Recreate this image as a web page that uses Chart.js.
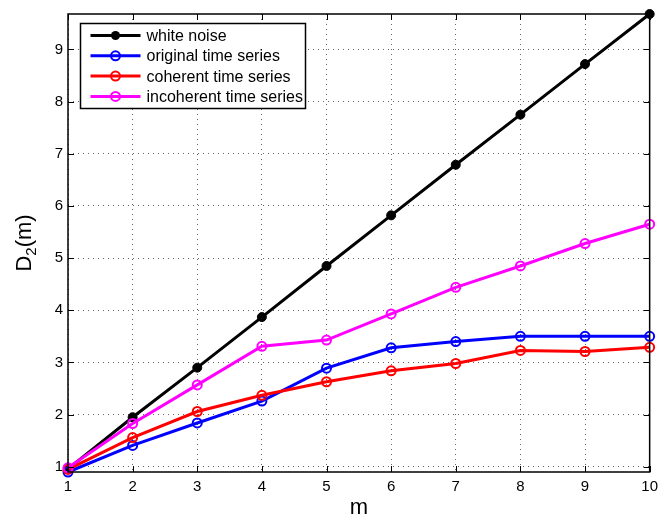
<!DOCTYPE html>
<html>
<head>
<meta charset="utf-8">
<script src="https://cdn.jsdelivr.net/npm/chart.js@4.4.1/dist/chart.umd.min.js"></script>
<style>
  html, body { margin: 0; padding: 0; background: #fff; }
  #wrap { width: 664px; height: 519px; }
</style>
</head>
<body>
<div id="wrap"><canvas id="d2Chart"></canvas></div>
<script>
// embedding dimension m
const embeddingDims = [1, 2, 3, 4, 5, 6, 7, 8, 9, 10];

// correlation dimension D2(m) per series
const whiteNoise = [0.96, 1.95, 2.90, 3.87, 4.85, 5.82, 6.79, 7.75, 8.72, 9.68];
const originalSeries = [0.90, 1.41, 1.84, 2.26, 2.89, 3.28, 3.40, 3.50, 3.50, 3.50];
const coherentSeries = [0.95, 1.56, 2.06, 2.37, 2.63, 2.84, 2.98, 3.23, 3.21, 3.29];
const incoherentSeries = [0.98, 1.83, 2.57, 3.31, 3.43, 3.93, 4.44, 4.85, 5.28, 5.65];

const seriesLabels = ['white noise', 'original time series', 'coherent time series', 'incoherent time series'];
const xTicks = [1, 2, 3, 4, 5, 6, 7, 8, 9, 10];
const yTicks = [1, 2, 3, 4, 5, 6, 7, 8, 9];

const FONT = "'Liberation Sans', Arial, Helvetica, sans-serif";

function toPoints(values) {
    return values.map((v, i) => ({ x: embeddingDims[i], y: v }));
}

function makeSeries(label, values, color, filled, order) {
    return {
        label: label,
        data: toPoints(values),
        borderColor: color,
        backgroundColor: color,
        borderWidth: 3,
        pointRadius: 4.5,
        pointBorderWidth: filled ? 1 : 2,
        pointBackgroundColor: filled ? color : 'rgba(0,0,0,0)',
        pointBorderColor: color,
        pointStyle: 'circle',
        tension: 0,
        clip: false,
        order: order
    };
}

// box, inward tick marks (all four sides) and the y label with subscript
const frameAndLabels = {
    id: 'frameAndLabels',
    afterDraw(chart) {
        const { ctx, chartArea: a, scales: { x, y } } = chart;
        ctx.save();
        ctx.strokeStyle = '#000';
        ctx.lineWidth = 1;
        ctx.beginPath();
        xTicks.forEach(t => {
            const px = Math.round(x.getPixelForValue(t)) + 0.5;
            ctx.moveTo(px, a.bottom); ctx.lineTo(px, a.bottom - 6);
            ctx.moveTo(px, a.top); ctx.lineTo(px, a.top + 6);
        });
        yTicks.forEach(t => {
            const py = Math.round(y.getPixelForValue(t)) + 0.5;
            ctx.moveTo(a.left, py); ctx.lineTo(a.left + 6, py);
            ctx.moveTo(a.right, py); ctx.lineTo(a.right - 6, py);
        });
        ctx.stroke();
        ctx.lineWidth = 1.5;
        ctx.strokeRect(a.left, a.top, a.right - a.left, a.bottom - a.top);

        // y axis title: D with subscript 2, then (m)
        const cy = (a.top + a.bottom) / 2;
        ctx.translate(25, cy);
        ctx.rotate(-Math.PI / 2);
        ctx.fillStyle = '#000';
        ctx.textBaseline = 'middle';
        ctx.textAlign = 'left';
        const big = '22px ' + FONT;
        const small = '15px ' + FONT;
        ctx.font = big;
        const wD = ctx.measureText('D').width;
        const wM = ctx.measureText('(m)').width;
        ctx.font = small;
        const w2 = ctx.measureText('2').width;
        let sx = -(wD + w2 + wM) / 2;
        ctx.font = big;
        ctx.fillText('D', sx, 0);
        sx += wD;
        ctx.font = small;
        ctx.fillText('2', sx, 7);
        sx += w2;
        ctx.font = big;
        ctx.fillText('(m)', sx, 0);
        ctx.restore();
    }
};

// boxed legend in the upper left corner of the axes
const boxedLegend = {
    id: 'boxedLegend',
    afterDraw(chart) {
        const { ctx, chartArea: a } = chart;
        const left = a.left + 12.5, top = a.top + 9.5;
        const w = 225, h = 85;
        ctx.save();
        ctx.fillStyle = '#fff';
        ctx.fillRect(left, top, w, h);
        ctx.strokeStyle = '#000';
        ctx.lineWidth = 1.5;
        ctx.strokeRect(left, top, w, h);
        ctx.font = '16px ' + FONT;
        ctx.textBaseline = 'middle';
        ctx.textAlign = 'left';
        chart.data.datasets.forEach((ds, i) => {
            const ry = top + 12 + i * 20.3;
            ctx.strokeStyle = ds.borderColor;
            ctx.lineWidth = 3;
            ctx.beginPath();
            ctx.moveTo(left + 10, ry);
            ctx.lineTo(left + 60, ry);
            ctx.stroke();
            ctx.beginPath();
            ctx.arc(left + 35, ry, 4.5, 0, Math.PI * 2);
            if (ds.pointBorderWidth === 1) {
                ctx.fillStyle = ds.borderColor;
                ctx.fill();
            } else {
                ctx.lineWidth = 2;
                ctx.stroke();
            }
            ctx.fillStyle = '#000';
            ctx.fillText(ds.label, left + 66, ry + 1);
        });
        ctx.restore();
    }
};

const gridStyle = {
    color: 'rgba(0,0,0,0.6)',
    lineWidth: 1,
    drawTicks: false
};

const ctx = document.getElementById('d2Chart').getContext('2d');
new Chart(ctx, {
    type: 'line',
    data: {
        datasets: [
            makeSeries(seriesLabels[0], whiteNoise, '#000000', true, 4),
            makeSeries(seriesLabels[1], originalSeries, '#0000ff', false, 3),
            makeSeries(seriesLabels[2], coherentSeries, '#ff0000', false, 2),
            makeSeries(seriesLabels[3], incoherentSeries, '#ff00ff', false, 1)
        ]
    },
    options: {
        responsive: true,
        maintainAspectRatio: false,
        animation: false,
        layout: { padding: { top: 13, right: 8, left: 0, bottom: 0 } },
        plugins: {
            legend: { display: false },
            tooltip: { enabled: false }
        },
        scales: {
            x: {
                type: 'linear',
                min: 1,
                max: 10,
                afterBuildTicks: scale => { scale.ticks = xTicks.map(v => ({ value: v })); },
                afterFit: scale => { scale.height = 47; },
                ticks: {
                    color: '#000',
                    font: { family: FONT, size: 15 },
                    padding: 6,
                    maxRotation: 0,
                    autoSkip: false
                },
                grid: gridStyle,
                border: { display: false, dash: [1, 4] },
                title: {
                    display: true,
                    text: 'm',
                    color: '#000',
                    font: { family: FONT, size: 22, lineHeight: 1.0 },
                    padding: { top: 0, bottom: 0 }
                }
            },
            y: {
                type: 'linear',
                min: 0.90,
                max: 9.68,
                afterBuildTicks: scale => { scale.ticks = yTicks.map(v => ({ value: v })); },
                afterFit: scale => { scale.width = 68; },
                ticks: {
                    color: '#000',
                    font: { family: FONT, size: 15 },
                    padding: 5
                },
                grid: gridStyle,
                border: { display: false, dash: [1, 4] }
            }
        }
    },
    plugins: [frameAndLabels, boxedLegend]
});
</script>
</body>
</html>
